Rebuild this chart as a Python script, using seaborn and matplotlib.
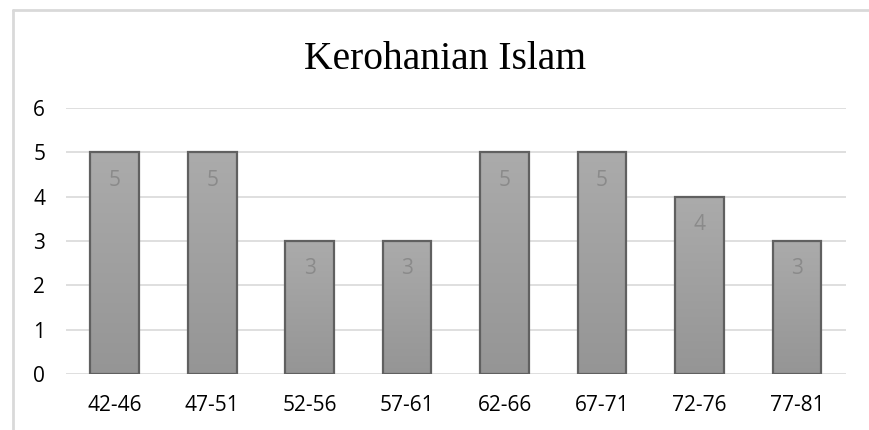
import numpy as np
import pandas as pd
import matplotlib.pyplot as plt
import seaborn as sns
from matplotlib.lines import Line2D

# data
groups = ["42-46", "47-51", "52-56", "57-61", "62-66", "67-71", "72-76", "77-81"]
counts = [5, 5, 3, 3, 5, 5, 4, 3]
title = "Kerohanian Islam"

df = pd.DataFrame({"group": groups, "count": counts})

sns.set_style("white")
plt.rcParams["font.family"] = ["Open Sans", "DejaVu Sans"]

fig = plt.figure(figsize=(8.7, 4.3), dpi=100)
ax = fig.add_axes([0.0759, 0.130, 0.8961, 0.619])

sns.barplot(data=df, x="group", y="count", color="#a0a0a0", width=0.5,
            edgecolor="#606060", linewidth=1.6, ax=ax, zorder=3)

# vertical gradient on each bar (light top -> darker bottom)
grad = np.linspace(0, 1, 256).reshape(-1, 1)
cmap = sns.blend_palette(["#ababab", "#959595"], as_cmap=True)
for p in ax.patches:
    x0, y0 = p.get_x(), p.get_y()
    w, h = p.get_width(), p.get_height()
    im = ax.imshow(grad, cmap=cmap, extent=[x0, x0 + w, y0, y0 + h],
                   origin="upper", aspect="auto", zorder=3.5)
    im.set_clip_path(p)
    p.set_facecolor("none")
    p.set_zorder(4)

ax.set_xlim(-0.5, len(groups) - 0.5)
ax.set_ylim(0, 6)
ax.set_yticks(range(0, 7))
ax.yaxis.grid(True, color="#d9d9d9", linewidth=1.2, zorder=0)
ax.set_axisbelow(True)
for s in ax.spines.values():
    s.set_visible(False)
ax.tick_params(axis="both", length=0, labelsize=15, colors="#000000")
ax.tick_params(axis="y", pad=15)
ax.tick_params(axis="x", pad=15)
ax.set_xlabel("")
ax.set_ylabel("")

for i, v in enumerate(counts):
    ax.text(i, v - 0.63, str(v), ha="center", va="center", fontsize=15,
            color="#8a8a8a", zorder=5)

fig.text(0.512, 0.862, title, ha="center", va="center", fontsize=28.5,
         family=["Liberation Serif", "DejaVu Serif"], color="#000000")

# chart frame (light gray, partly cut off)
fx = 13 / 870
fy = 1 - 10 / 430
fig.add_artist(Line2D([fx, 1], [fy, fy], transform=fig.transFigure,
                      color="#d9d9d9", linewidth=2))
fig.add_artist(Line2D([fx, fx], [0, fy], transform=fig.transFigure,
                      color="#d9d9d9", linewidth=2))

fig.savefig("out.png", dpi=100)
